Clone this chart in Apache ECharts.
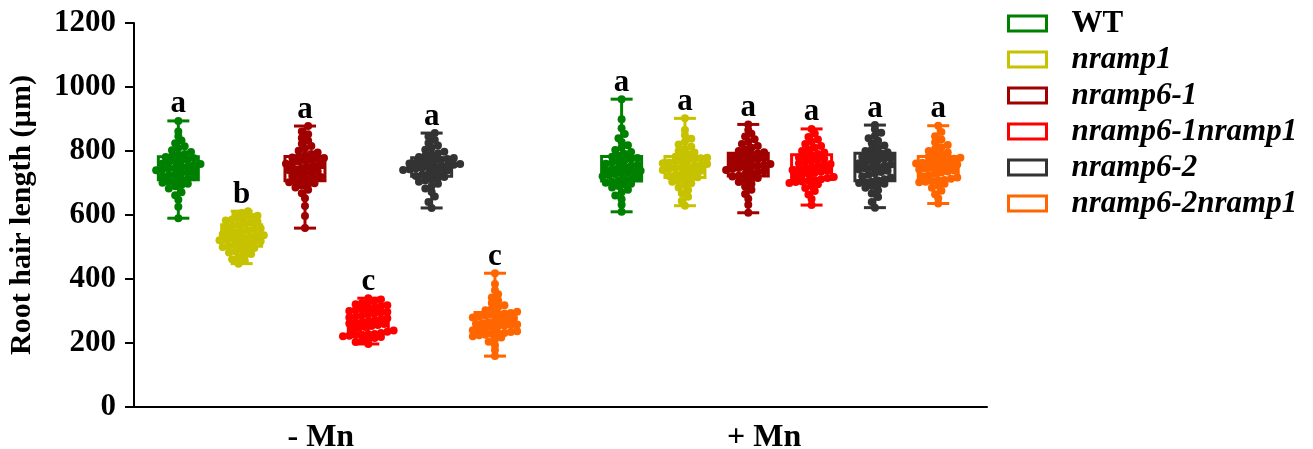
<!DOCTYPE html>
<html>
<head>
<meta charset="utf-8">
<script src="https://cdn.jsdelivr.net/npm/echarts@6/dist/echarts.min.js"></script>
<style>
html, body { margin: 0; padding: 0; background: #fff; }
#box { width: 1313px; height: 449px; }
</style>
</head>
<body>
<div id="box"></div>
<script>
// 条件和基因型
var conditions = ['- Mn', '+ Mn'];
var genotypes = ['WT', 'nramp1', 'nramp6-1', 'nramp6-1nramp1', 'nramp6-2', 'nramp6-2nramp1'];
var colors = ['#008000', '#C6C200', '#A00000', '#FF0000', '#333333', '#FF6600'];
var yTicks = [0, 200, 400, 600, 800, 1000, 1200];

// 显著性字母
var lettersMinusMn = ['a', 'b', 'a', 'c', 'a', 'c'];
var lettersPlusMn = ['a', 'a', 'a', 'a', 'a', 'a'];

// 根毛长度 (µm)，- Mn
var wtMinusMn = [590, 626, 648, 662, 671, 683, 690, 694, 698, 701, 704, 708, 711, 713, 718, 720, 724, 727, 731, 733, 736, 740, 742, 745, 747, 750, 752, 756, 759, 761, 765, 768, 770, 773, 777, 781, 784, 788, 791, 797, 802, 809, 815, 824, 833, 846, 861, 894];
var nramp1MinusMn = [448, 456, 462, 468, 473, 478, 483, 487, 490, 494, 497, 500, 503, 506, 509, 512, 515, 518, 521, 523, 526, 528, 530, 532, 535, 537, 540, 543, 546, 549, 552, 555, 558, 561, 565, 569, 572, 576, 579, 583, 586, 589, 592, 595, 598, 601, 606, 612];
var nramp61MinusMn = [559, 597, 628, 652, 668, 679, 686, 692, 696, 699, 702, 704, 708, 711, 715, 719, 722, 726, 729, 733, 737, 740, 743, 747, 750, 753, 757, 760, 763, 767, 770, 772, 775, 778, 780, 782, 786, 791, 795, 801, 808, 816, 823, 832, 841, 852, 861, 878];
var nramp61n1MinusMn = [197, 203, 208, 212, 216, 219, 221, 223, 225, 226, 227, 228, 231, 235, 239, 243, 247, 250, 253, 256, 259, 261, 263, 265, 268, 271, 274, 277, 280, 283, 286, 289, 292, 295, 297, 300, 303, 306, 309, 312, 315, 318, 321, 325, 328, 332, 336, 340];
var nramp62MinusMn = [622, 641, 658, 672, 683, 691, 698, 704, 708, 712, 716, 719, 722, 726, 729, 733, 736, 739, 741, 743, 745, 747, 749, 751, 753, 755, 757, 759, 761, 763, 765, 767, 770, 772, 775, 778, 781, 785, 789, 793, 798, 804, 810, 817, 825, 834, 845, 856];
var nramp62n1MinusMn = [159, 178, 193, 204, 211, 217, 221, 224, 226, 228, 230, 231, 234, 237, 240, 243, 246, 249, 252, 254, 256, 258, 260, 262, 265, 268, 271, 274, 277, 280, 283, 285, 288, 290, 292, 294, 298, 302, 307, 312, 318, 325, 333, 342, 352, 365, 384, 418];

// 根毛长度 (µm)，+ Mn
var wtPlusMn = [610, 632, 649, 661, 671, 679, 686, 691, 695, 698, 701, 704, 707, 711, 714, 718, 721, 724, 727, 730, 733, 735, 738, 740, 743, 747, 750, 754, 757, 760, 764, 767, 771, 775, 778, 782, 786, 791, 797, 803, 811, 818, 828, 840, 853, 871, 899, 962];
var nramp1PlusMn = [629, 644, 657, 668, 678, 686, 693, 699, 704, 708, 712, 715, 718, 722, 725, 729, 732, 735, 738, 741, 744, 746, 749, 751, 754, 756, 759, 762, 764, 767, 769, 772, 774, 777, 779, 782, 786, 790, 795, 800, 806, 813, 820, 829, 838, 849, 866, 902];
var nramp61PlusMn = [607, 632, 651, 666, 679, 689, 697, 703, 708, 712, 716, 720, 723, 727, 730, 734, 737, 741, 744, 747, 749, 751, 754, 756, 759, 762, 765, 768, 771, 774, 777, 780, 783, 786, 789, 792, 796, 800, 805, 810, 816, 822, 829, 837, 845, 854, 866, 883];
var nramp61n1PlusMn = [631, 650, 664, 675, 684, 691, 696, 700, 703, 705, 707, 709, 712, 716, 719, 722, 726, 729, 732, 735, 738, 741, 743, 746, 749, 752, 756, 759, 762, 766, 769, 773, 776, 780, 783, 787, 791, 795, 800, 805, 810, 816, 822, 829, 836, 844, 855, 869];
var nramp62PlusMn = [623, 641, 656, 667, 677, 685, 691, 695, 698, 700, 702, 704, 708, 712, 717, 721, 726, 730, 734, 738, 742, 745, 748, 751, 754, 758, 762, 765, 769, 772, 776, 779, 782, 785, 789, 792, 796, 800, 805, 811, 817, 824, 832, 840, 848, 857, 868, 881];
var nramp62n1PlusMn = [636, 652, 665, 676, 685, 692, 698, 702, 704, 706, 708, 709, 713, 717, 721, 725, 729, 733, 736, 739, 742, 745, 748, 751, 753, 756, 758, 761, 763, 766, 768, 771, 773, 776, 779, 782, 786, 790, 795, 800, 806, 812, 819, 827, 836, 846, 859, 879];

var minusMn = [wtMinusMn, nramp1MinusMn, nramp61MinusMn, nramp61n1MinusMn, nramp62MinusMn, nramp62n1MinusMn];
var plusMn = [wtPlusMn, nramp1PlusMn, nramp61PlusMn, nramp61n1PlusMn, nramp62PlusMn, nramp62n1PlusMn];
var allData = [minusMn, plusMn];
var allLetters = [lettersMinusMn, lettersPlusMn];

var FONT = "'Liberation Serif', 'Times New Roman', serif";

// 每组在x轴上的位置
function groupX(c, g) {
    return 0.7 + c * 7 + g;
}

function quantile(sorted, p) {
    var pos = (sorted.length - 1) * p;
    var lo = Math.floor(pos), hi = Math.ceil(pos);
    return sorted[lo] + (sorted[hi] - sorted[lo]) * (pos - lo);
}

// 蜂群图：按数值分箱，箱内左右铺开
function swarm(values, center) {
    var sorted = values.slice().sort(function (a, b) { return a - b; });
    var bins = {};
    sorted.forEach(function (v) {
        var k = Math.floor(v / 20);
        (bins[k] = bins[k] || []).push(v);
    });
    var pts = [];
    Object.keys(bins).forEach(function (k) {
        var b = bins[k];
        b.forEach(function (v, j) {
            pts.push([center + (j - (b.length - 1) / 2) * 0.1, v]);
        });
    });
    return pts;
}

function makeRender(g) {
    return function (params, api) {
        var x = api.value(0);
        var lo = api.coord([x, api.value(1)]);
        var q1 = api.coord([x, api.value(2)]);
        var md = api.coord([x, api.value(3)]);
        var q3 = api.coord([x, api.value(4)]);
        var hi = api.coord([x, api.value(5)]);
        var color = colors[g];
        var hw = 20, cw = 11;
        var st = { stroke: color, lineWidth: 3, fill: 'none' };
        return {
            type: 'group',
            children: [
                { type: 'line', shape: { x1: lo[0], y1: lo[1], x2: hi[0], y2: hi[1] }, style: st },
                { type: 'line', shape: { x1: lo[0] - cw, y1: lo[1], x2: lo[0] + cw, y2: lo[1] }, style: st },
                { type: 'line', shape: { x1: hi[0] - cw, y1: hi[1], x2: hi[0] + cw, y2: hi[1] }, style: st },
                { type: 'rect', shape: { x: q3[0] - hw, y: q3[1], width: hw * 2, height: q1[1] - q3[1] }, style: st },
                { type: 'line', shape: { x1: md[0] - hw, y1: md[1], x2: md[0] + hw, y2: md[1] }, style: st },
                {
                    type: 'text', x: hi[0], y: hi[1] - 1,
                    style: {
                        text: allLetters[params.dataIndex][g],
                        fill: '#000', align: 'center', verticalAlign: 'bottom',
                        font: 'bold 31px ' + FONT
                    }
                }
            ]
        };
    };
}

var series = [];
genotypes.forEach(function (name, g) {
    var pts = [];
    var boxes = [];
    conditions.forEach(function (cond, c) {
        var vals = allData[c][g];
        var x = groupX(c, g);
        pts = pts.concat(swarm(vals, x));
        var s = vals.slice().sort(function (a, b) { return a - b; });
        boxes.push([x, s[0], quantile(s, 0.25), quantile(s, 0.5), quantile(s, 0.75), s[s.length - 1]]);
    });
    series.push({
        name: name,
        type: 'scatter',
        symbol: 'circle',
        symbolSize: 8,
        itemStyle: { color: colors[g], opacity: 1 },
        data: pts,
        z: 2
    });
    series.push({
        name: name,
        type: 'custom',
        renderItem: makeRender(g),
        itemStyle: { color: colors[g] },
        data: boxes,
        z: 3
    });
});

// x轴标签放在每个条件组的中间（稍偏左）
var labelPos = conditions.map(function (cond, c) {
    return (groupX(c, 0) + groupX(c, genotypes.length - 1)) / 2 - 0.25;
});

var myChart = echarts.init(document.getElementById('box'));

var option = {
    backgroundColor: '#fff',
    animation: false,
    grid: { left: 134, right: 326, top: 23, bottom: 42, containLabel: false, outerBoundsMode: 'none' },
    legend: {
        orient: 'vertical',
        left: 1002,
        top: 2,
        icon: 'rect',
        itemWidth: 38,
        itemHeight: 15,
        itemGap: 3,
        selectedMode: false,
        data: genotypes.map(function (name, g) {
            return {
                name: name,
                itemStyle: { color: '#fff', borderColor: colors[g], borderWidth: 3, opacity: 1 }
            };
        }),
        formatter: function (name) {
            return name === 'WT' ? '{n|' + name + '}' : '{i|' + name + '}';
        },
        textStyle: {
            padding: [0, 0, 0, 20],
            fontFamily: FONT,
            fontWeight: 'bold',
            fontSize: 31,
            lineHeight: 33,
            color: '#000',
            rich: {
                n: { fontFamily: FONT, fontWeight: 'bold', fontSize: 31, lineHeight: 33, color: '#000' },
                i: { fontFamily: FONT, fontWeight: 'bold', fontStyle: 'italic', fontSize: 31, lineHeight: 33, color: '#000' }
            }
        }
    },
    xAxis: {
        type: 'value',
        min: 0,
        max: 13.47,
        splitLine: { show: false },
        axisLine: { show: true, lineStyle: { color: '#000', width: 2 } },
        axisTick: { show: false },
        axisLabel: {
            customValues: labelPos,
            formatter: function (v) {
                var idx = 0, best = Infinity;
                labelPos.forEach(function (p, i) {
                    if (Math.abs(p - v) < best) { best = Math.abs(p - v); idx = i; }
                });
                return conditions[idx];
            },
            margin: 15,
            color: '#000',
            fontFamily: FONT,
            fontWeight: 'bold',
            fontSize: 32
        }
    },
    yAxis: {
        type: 'value',
        min: 0,
        max: 1200,
        interval: 200,
        name: 'Root hair length (µm)',
        nameLocation: 'middle',
        nameRotate: 90,
        nameGap: 97,
        nameTextStyle: { color: '#000', fontFamily: FONT, fontWeight: 'bold', fontSize: 30 },
        splitLine: { show: false },
        axisLine: { show: true, lineStyle: { color: '#000', width: 2 } },
        axisTick: { show: true, length: 9, lineStyle: { color: '#000', width: 2 } },
        axisLabel: {
            margin: 18,
            color: '#000',
            fontFamily: FONT,
            fontWeight: 'bold',
            fontSize: 31,
            formatter: function (v) { return yTicks.indexOf(v) >= 0 ? String(v) : ''; }
        }
    },
    series: series
};

myChart.setOption(option);
</script>
</body>
</html>
